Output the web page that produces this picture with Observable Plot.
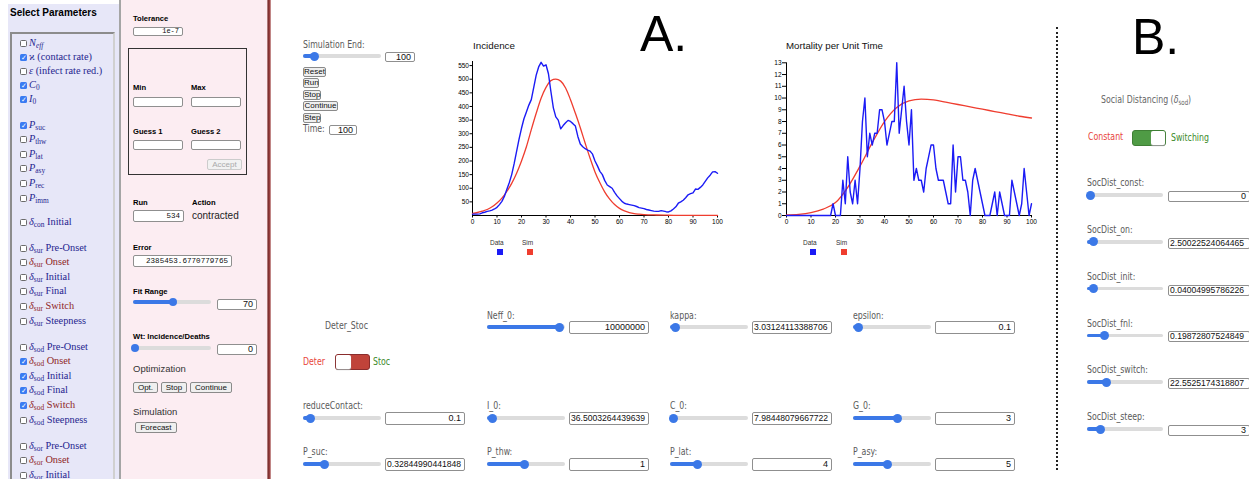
<!DOCTYPE html>
<html><head><meta charset="utf-8">
<script src="https://cdn.jsdelivr.net/npm/d3@7"></script>
<script src="https://cdn.jsdelivr.net/npm/@observablehq/plot@0.6"></script>
<style>
html,body{margin:0;padding:0;}
body{width:1249px;height:479px;overflow:hidden;position:relative;background:#fff;font-family:"Liberation Sans",Arial,sans-serif;color:#000;}
.a{position:absolute;white-space:nowrap;line-height:1;}
.inp{position:absolute;box-sizing:border-box;background:#fff;border:1px solid #8f8f8f;border-radius:2px;font-size:9px;padding:0 3px;text-align:right;overflow:hidden;white-space:nowrap;color:#111;font-family:"Liberation Sans",Arial,sans-serif;}
.btn{position:absolute;box-sizing:border-box;background:#efefef;border:1px solid #8a8a8a;border-radius:2px;font-size:8px;text-align:center;color:#111;white-space:nowrap;}
.cond{font-family:"DejaVu Sans Condensed","DejaVu Sans","Liberation Sans",Arial,sans-serif;color:#5a5a5a;transform:scaleX(0.79);transform-origin:0 50%;}
.ser{font-family:"Liberation Serif","DejaVu Serif",serif;color:#25258f;}
.ser sub{font-size:0.72em;vertical-align:-0.3em;line-height:0;}
.red{color:#8e1f1f;}
.lb{font-weight:bold;}
</style></head><body>
<script>
// ---------------- chart data ----------------
const days = d3.range(0, 101);
const incidenceData = [5,5,5,6,10,12,15,17,20,24,30,40,52,70,95,120,150,190,235,280,
  320,355,380,405,425,470,515,545,562,548,553,520,455,395,362,350,318,330,340,349,
  345,337,328,290,262,252,245,240,236,225,200,182,162,150,128,112,106,100,85,72,
  62,52,45,42,40,38,36,33,29,27,25,22,20,18,16,15,15,18,16,14,
  13,17,24,32,45,50,56,65,76,80,83,97,96,103,112,125,138,148,160,161,155];
const simIncDays = [0,2,4,6,8,10,12,14,16,18,20,22,24,26,28,30,32,34,36,38,40,42,44,46,48,50,52,54,56,58,60,62,64,66,68,70,75,80,85,90,95,100];
const incidenceSim = [8,11,16,22,32,46,64,88,118,155,200,252,315,375,430,470,495,500,493,468,425,375,322,265,210,160,120,86,60,40,26,17,11,7,5,3.5,1.8,1,0.6,0.4,0.3,0.2];
const mortalityData = [0,0,0,0,0,0,0,0,0,0,0,0,0,0,0,0,0,0,0,1,
  0,0,0,3,1,5,2,1,3,1,4,8,10,5,7,6,7,7,9,9,
  8,6,7,8,8,13,7,9,11,8,6,9,3,4,3,3,2,4,5,6,
  6,4,3,3,3,2,1,1,6,2,5,5,3,3,2,0,3,4,3,2,
  1,0,0,0,1,2,0,2,1,0,0,0,3,2,1,0,1,4,2,0,1];
const simMortDays = [0,5,10,15,20,25,30,35,40,45,50,55,60,65,70,75,80,85,90,95,100];
const mortalitySim = [0.05,0.1,0.25,0.55,1.1,2.4,4.2,6.2,8.0,9.2,9.75,9.9,9.85,9.65,9.45,9.25,9.05,8.85,8.65,8.45,8.3];
const xTicks = [0,10,20,30,40,50,60,70,80,90,100];
const incYTicks = [50,100,150,200,250,300,350,400,450,500,550];
const mortYTicks = [0,1,2,3,4,5,6,7,8,9,10,11,12,13];
const seriesNames = ["Data","Sim"];

// ---------------- UI text ----------------
const paramGroups = [
  [["<i>N</i><sub><i>eff</i></sub>",0,0],["ϰ (contact rate)",1,0],["<i>ε</i> (infect rate red.)",0,0],["<i>C</i><sub>0</sub>",1,0],["<i>I</i><sub>0</sub>",1,0]],
  [["<i>P</i><sub>suc</sub>",1,0],["<i>P</i><sub>thw</sub>",0,0],["<i>P</i><sub>lat</sub>",0,0],["<i>P</i><sub>asy</sub>",0,0],["<i>P</i><sub>rec</sub>",0,0],["<i>P</i><sub>imm</sub>",0,0]],
  [["<i>δ</i><sub>con</sub> Initial",0,0]],
  [["<i>δ</i><sub>sur</sub> Pre-Onset",0,0],["<i>δ</i><sub>sur</sub> Onset",0,1],["<i>δ</i><sub>sur</sub> Initial",0,0],["<i>δ</i><sub>sur</sub> Final",0,0],["<i>δ</i><sub>sur</sub> Switch",0,1],["<i>δ</i><sub>sur</sub> Steepness",0,0]],
  [["<i>δ</i><sub>sod</sub> Pre-Onset",0,0],["<i>δ</i><sub>sod</sub> Onset",1,1],["<i>δ</i><sub>sod</sub> Initial",1,0],["<i>δ</i><sub>sod</sub> Final",1,0],["<i>δ</i><sub>sod</sub> Switch",1,1],["<i>δ</i><sub>sod</sub> Steepness",0,0]],
  [["<i>δ</i><sub>sor</sub> Pre-Onset",0,0],["<i>δ</i><sub>sor</sub> Onset",0,1],["<i>δ</i><sub>sor</sub> Initial",0,0]]
];
const mainParams = [
  ["Neff_0:","10000000"],["kappa:","3.03124113388706"],["epsilon:","0.1"],
  ["reduceContact:","0.1"],["I_0:","36.5003264439639"],["C_0:","7.98448079667722"],["G_0:","3"],
  ["P_suc:","0.32844990441848"],["P_thw:","1"],["P_lat:","4"],["P_asy:","5"]
];
const socParams = [["SocDist_const:","0"],["SocDist_on:","2.50022524064465"],["SocDist_init:","0.04004995786226"],["SocDist_fnl:","0.19872807524849"],["SocDist_switch:","22.5525174318807"],["SocDist_steep:","3"]];

// ---------------- helpers ----------------
const B = document.body;
function add(h){B.insertAdjacentHTML("beforeend",h);}
function box(x,y,w,h,st){add(`<div style="position:absolute;left:${x}px;top:${y}px;width:${w}px;height:${h}px;${st||""}"></div>`);}
function T(x,yc,h,fs,cls,st){add(`<div class="a ${cls||""}" style="left:${x}px;top:${yc-fs*0.53}px;font-size:${fs}px;${st||""}">${h}</div>`);}
function inp(x,y,w,h,v,st){add(`<div class="inp" style="left:${x}px;top:${y}px;width:${w}px;height:${h}px;line-height:${h-2}px;${st||""}">${v}</div>`);}
function btn(x,y,w,h,l,st){add(`<div class="btn" style="left:${x}px;top:${y}px;width:${w}px;height:${h}px;line-height:${h-2}px;${st||""}">${l}</div>`);}
function sld(x,yc,w,f,d){d=d||9;const tx=x+w*f;
  box(x,yc-1.8,w,3.6,"background:#dcdcdc;border-radius:2px;");
  box(x,yc-1.8,tx-x,3.6,"background:#3b78e7;border-radius:2px;");
  box(tx-d/2,yc-d/2,d,d,"background:#3b78e7;border-radius:50%;");}
function cb(x,yc,on){
  if(on) add(`<div style="position:absolute;left:${x}px;top:${yc-3.5}px;width:7px;height:7px;background:#3a7bf2;border-radius:1.5px;color:#fff;font-size:6.5px;line-height:7px;text-align:center;">✓</div>`);
  else box(x,yc-3.5,7,7,"box-sizing:border-box;border:1px solid #6b6b6b;border-radius:1.5px;background:#fff;");
}

// ---------------- left panel ----------------
box(8,4,111,475,"background:#e7e7f8;");
box(119,0,2,479,"background:#a5a5a5;");
T(10,13,"Select Parameters",10,"","font-weight:bold;");
box(10,32,105,460,"box-sizing:border-box;border:2px solid;border-color:#8c8c8c #d0d0d0 #d0d0d0 #8c8c8c;");
const groupStart=[43,125,222,248,347,446];
paramGroups.forEach((g,gi)=>{
  const step = gi===0?14:14.6;
  g.forEach((it,i)=>{
    const yc = groupStart[gi]+i*step;
    cb(20,yc,it[1]);
    T(29,yc,it[0],10.3,"ser"+(it[2]?" red":""));
  });
});

// ---------------- pink panel ----------------
box(121,0,146,479,"background:#fcedf2;");
box(267,0,4,479,"background:linear-gradient(90deg,#c79b9b,#7a2a2a 40%,#a04545 70%,#d8b5b5);");
T(133,19,"Tolerance",7.6,"lb");
inp(133,27,50,9,"1e-7","font-size:7px;font-family:'Liberation Mono',monospace;");
box(128,48,119,127,"box-sizing:border-box;border:1px solid #333;");
T(133,88,"Min",7.6,"lb");T(191,88,"Max",7.6,"lb");
inp(133,97,50,10,"");inp(191,97,50,10,"");
T(133,132,"Guess 1",7.6,"lb");T(191,132,"Guess 2",7.6,"lb");
inp(133,140,50,10,"");inp(191,140,50,10,"");
btn(207,159,35,11,"Accept","color:#aaa;border-color:#ccc;background:#f2f2f2;font-size:8px;");
T(133,203,"Run",7.6,"lb");T(192,203,"Action",7.6,"lb");
inp(133,210,51,12,"534","font-size:7.5px;font-family:'Liberation Mono',monospace;");
T(192,216,"contracted",10,"","color:#222;");
T(133,248,"Error",7.6,"lb");
inp(133,255,99,12,"2385453.6770779765","font-size:7.6px;font-family:'Liberation Mono',monospace;");
T(133,292,"Fit Range",7.6,"lb");
sld(133,302,78,0.51,8);
inp(217,299,40,11,"70");
T(133,337,"Wt: Incidence/Deaths",7.6,"lb");
sld(133,348,78,0.02,8);
inp(217,344,40,11,"0");
T(133,369,"Optimization",9.5,"","color:#333;");
btn(133,382,25,11,"Opt.");btn(161,382,26,11,"Stop");btn(190,382,42,11,"Continue");
T(133,412,"Simulation",9.5,"","color:#333;");
btn(135,422,42,11,"Forecast");

// ---------------- main controls ----------------
T(303,45,"Simulation End:",11,"cond");
sld(303,56,78,0.15,9);
inp(385,52,30,10,"100");
[["Reset",23,67],["Run",16,78],["Stop",18,89.5],["Continue",35,101],["Step",18,112.5]].forEach(b=>btn(303,b[2],b[1],10,b[0],"font-size:8px;border-radius:2px;"));
T(303,129,"Time:",11,"cond");
inp(329,125,28,10,"100");

T(640,35,"A.",50,"","color:#000;");
T(1132,38,"B.",50,"","color:#000;");
box(1056,27,0,443,"border-left:2px dotted #222;");

// switch Deter/Stoc
T(325,326,"Deter_Stoc",11,"cond","");
T(303,362,"Deter",11,"cond","color:#e8443a;");
box(335,354,35,16,"box-sizing:border-box;border:1px solid #8a2d2d;border-radius:3px;background:#c0433a;");
box(336,355,15,14,"background:#fff;border-radius:2px;box-shadow:0 1px 1px #999;");
T(373,362,"Stoc",11,"cond","color:#3b8a2a;");

// parameter grid
const cols=[303,487,670,853];
const thumbs=[0.93,0.07,0.07,0.1,0.07,0.05,0.57,0.28,0.48,0.35,0.44];
const rows=[[316,327],[406,418],[452,464]];
mainParams.forEach((p,i)=>{
  let r,c;
  if(i<3){r=0;c=i+1;} else if(i<7){r=1;c=i-3;} else {r=2;c=i-7;}
  const x=cols[c];
  T(x,rows[r][0],p[0],11,"cond");
  sld(x,rows[r][1],78,thumbs[i],9);
  const long=p[1].length>10;
  inp(x+82,rows[r][1]-6,80,13,p[1],long?"text-align:left;padding-left:1px;font-size:8.6px;":"");
});

// B panel
T(1101,100,"Social Distancing (<i>δ</i><sub style='font-size:0.7em;vertical-align:-0.3em;line-height:0'>sod</sub>)",11,"cond","color:#666;");
T(1088,137,"Constant",11,"cond","color:#e8443a;");
box(1132,130,34,16,"box-sizing:border-box;border:1px solid #3f7f35;border-radius:3px;background:#4f9b45;");
box(1151,131,14,14,"background:#fff;border-radius:2px;box-shadow:0 1px 1px #999;");
T(1171,138,"Switching",11,"cond","color:#3b8a2a;");
const socThumb=[0.05,0.08,0.08,0.23,0.26,0.18];
socParams.forEach((p,i)=>{
  const y=183+i*46.8;
  T(1087,y,p[0],11,"cond");
  sld(1087,y+12,76,socThumb[i],9);
  const long=p[1].length>10;
  inp(1168,y+8,82,11,p[1],long?"text-align:left;padding-left:1px;font-size:8.6px;":"");
});

// ---------------- charts ----------------
function chart(dataVals, simDays, simVals, yMax, yTicks, tick, m){
  const dataRows = days.map((t,i)=>({t, v:dataVals[i], s:seriesNames[0]}));
  const simRows = simDays.map((t,i)=>({t, v:simVals[i], s:seriesNames[1]}));
  return Plot.plot({
    width:m.w, height:m.h, marginLeft:m.l, marginRight:m.r, marginTop:m.t, marginBottom:m.b,
    x:{domain:[0,100]}, y:{domain:[0,yMax]},
    color:{domain:seriesNames, range:["#1b1bf5","#ef3d2f"]},
    style:{fontSize:"6.5px", fontFamily:"Liberation Sans, Arial, sans-serif", background:"transparent", color:"#000", overflow:"visible"},
    marks:[
      Plot.axisY({ticks:yTicks, tickSize:tick, tickPadding:1, label:null}),
      Plot.axisX({ticks:xTicks, tickSize:2.5, tickPadding:1.5, label:null}),
      Plot.ruleX([0],{stroke:"#000", strokeWidth:1}),
      Plot.ruleY([0],{stroke:"#000", strokeWidth:1}),
      Plot.line(simRows,{x:"t", y:"v", stroke:"s", strokeWidth:1.3, curve:"monotone-x"}),
      Plot.line(dataRows,{x:"t", y:"v", stroke:"s", strokeWidth:1.4})
    ]
  });
}
function place(node,x,y){node.style.position="absolute";node.style.left=x+"px";node.style.top=y+"px";B.appendChild(node);}
place(chart(incidenceData, simIncDays, incidenceSim, 565, incYTicks, 2.5, {w:290,h:175,l:32,r:13,t:6,b:15}),440,55);
place(chart(mortalityData, simMortDays, mortalitySim, 13, mortYTicks, 4, {w:290,h:175,l:31,r:14,t:7.3,b:15}),755,55);
T(473,46,"Incidence",9.8,"","color:#111;");
T(786,46,"Mortality per Unit Time",9.7,"","color:#111;");
function legend(x1,x2){
  T(x1-7,243,seriesNames[0],6.5,"","color:#333;");
  box(x1,249,6,6,"background:#1b1bf5;");
  T(x2-5,243,seriesNames[1],6.5,"","color:#333;");
  box(x2,249,6,6,"background:#ef3d2f;");
}
legend(497,527);
legend(810,841);
</script>
</body></html>
